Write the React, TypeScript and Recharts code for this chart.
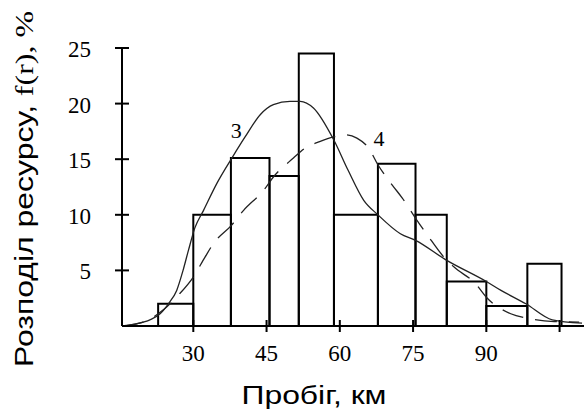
import React from 'react';
import {
    ComposedChart,
    Line,
    XAxis,
    YAxis,
    ReferenceArea,
    ReferenceDot
} from 'recharts';

// Histogram bins: edges (km) and heights (%)
const binEdges = [22.8, 30, 37.7, 45.6, 51.6, 58.8, 67.8, 75.5, 81.9, 90, 98.4, 105.4];
const binValues = [2, 10, 15.1, 13.5, 24.5, 10, 14.6, 10, 4, 1.8, 5.6];

// Curve 3 (solid)
const curve3X = [15.4, 18.4, 21.1, 23.2, 24.9, 26.6, 27.9, 29, 30.3, 32.1, 34.8, 37.9, 40.6, 43.7, 46.4, 49.8, 51.9, 54.6, 58.8, 61.7, 64.9, 67.8, 72.4, 75.5, 81.9, 90, 93, 98.1, 103.5, 109.6];
const curve3Y = [0, 0.2, 0.55, 1.1, 2.0, 3.2, 5.0, 6.8, 8.8, 10.4, 12.8, 15.1, 17.0, 19.0, 19.9, 20.2, 20.2, 19.6, 16.7, 14.0, 11.3, 10.0, 8.3, 7.7, 5.9, 4.0, 3.2, 2.0, 0.55, 0.25];

// Curve 4 (dashed)
const curve4X = [15.4, 20, 24, 27, 30, 32.4, 34.1, 37.9, 40.3, 44.4, 46.4, 50.5, 52.9, 56, 58.7, 61.1, 63.5, 65.9, 67.8, 70.7, 72.8, 75.8, 77.9, 81.3, 83.4, 87.8, 90.2, 95, 98.4, 103.9, 109];
const curve4Y = [0, 0.4, 1.5, 2.8, 4.4, 6.2, 7.4, 9.1, 10.4, 12.2, 13.4, 15.1, 16.0, 16.6, 17.0, 17.2, 16.9, 16.0, 14.5, 12.7, 11.5, 9.5, 8.2, 6.2, 5.3, 3.8, 2.5, 1.1, 0.7, 0.4, 0.35];

const xTicks = [30, 45, 60, 75, 90, 105];
const xTickLabels = ['30', '45', '60', '75', '90', ''];
const yTicks = [5, 10, 15, 20, 25];

const bins = binValues.map((v, i) => ({ from: binEdges[i], to: binEdges[i + 1], value: v }));
const curve3 = curve3X.map((x, i) => ({ x, y: curve3Y[i] }));
const curve4 = curve4X.map((x, i) => ({ x, y: curve4Y[i] }));

const serif = '"Liberation Serif", "Times New Roman", serif';
const sans = '"Liberation Sans", Arial, sans-serif';

const XTick = (props: any) => {
    const { x, y, payload } = props;
    const idx = xTicks.indexOf(payload.value);
    return (
        <g>
            <line x1={x} x2={x} y1={y - 6} y2={y + 6} stroke="#000" strokeWidth={2} />
            <text x={x} y={y + 35} textAnchor="middle" fontFamily={serif} fontSize={23} fill="#000">
                {xTickLabels[idx]}
            </text>
        </g>
    );
};

const YTick = (props: any) => {
    const { x, y, payload } = props;
    if (payload.value === 0) return null;
    return (
        <g>
            <line x1={x - 7} x2={x + 7} y1={y} y2={y} stroke="#000" strokeWidth={2} />
            <text x={x - 31} y={y + 9} textAnchor="end" fontFamily={serif} fontSize={23} fill="#000">
                {payload.value}
            </text>
        </g>
    );
};

// axis titles are stretched along the reading direction
const YTitle = () => (
    <text
        transform="rotate(-90, 33, 189)"
        x={33}
        y={189}
        textAnchor="middle"
        fill="#000"
        textLength={356}
        lengthAdjust="spacingAndGlyphs"
    >
        <tspan fontFamily={sans} fontSize={25}>Розподіл ресурсу, </tspan>
        <tspan fontFamily={serif} fontSize={25}>f(r), %</tspan>
    </text>
);

const XTitle = () => (
    <text
        x={314}
        y={404}
        textAnchor="middle"
        fontFamily={sans}
        fontSize={25}
        fill="#000"
        textLength={145}
        lengthAdjust="spacingAndGlyphs"
    >
        Пробіг, км
    </text>
);

const App: React.FC = () => {
    return (
        <div style={{ position: 'absolute', left: 0, top: 0, width: 584, height: 417, background: '#fff' }}>
            <ComposedChart width={584} height={417} margin={{ top: 48, right: 0, bottom: 61, left: 62 }}>
                <XAxis
                    type="number"
                    dataKey="x"
                    domain={[15.4, 110]}
                    ticks={xTicks}
                    interval={0}
                    allowDataOverflow
                    height={30}
                    tickSize={0}
                    tickMargin={0}
                    tickLine={false}
                    axisLine={{ stroke: '#000', strokeWidth: 2 }}
                    tick={<XTick />}
                    label={<XTitle />}
                />
                <YAxis
                    type="number"
                    domain={[0, 25]}
                    ticks={yTicks}
                    interval={0}
                    width={60}
                    tickSize={0}
                    tickMargin={0}
                    tickLine={false}
                    axisLine={{ stroke: '#000', strokeWidth: 2 }}
                    tick={<YTick />}
                    label={<YTitle />}
                />
                {bins.map((b, i) => (
                    <ReferenceArea
                        key={i}
                        x1={b.from}
                        x2={b.to}
                        y1={0}
                        y2={b.value}
                        fill="none"
                        stroke="#000"
                        strokeWidth={2}
                        ifOverflow="visible"
                    />
                ))}
                <Line
                    data={curve3}
                    dataKey="y"
                    type="monotone"
                    stroke="#222"
                    strokeWidth={1.3}
                    dot={false}
                    isAnimationActive={false}
                />
                <Line
                    data={curve4}
                    dataKey="y"
                    type="monotone"
                    stroke="#222"
                    strokeWidth={1.3}
                    strokeDasharray="22 12"
                    dot={false}
                    isAnimationActive={false}
                />
                <ReferenceDot
                    x={38.8}
                    y={17.6}
                    r={0}
                    fill="none"
                    stroke="none"
                    ifOverflow="visible"
                    label={{ value: '3', position: 'center', fontFamily: serif, fontSize: 22, fill: '#000' }}
                />
                <ReferenceDot
                    x={68}
                    y={16.9}
                    r={0}
                    fill="none"
                    stroke="none"
                    ifOverflow="visible"
                    label={{ value: '4', position: 'center', fontFamily: serif, fontSize: 22, fill: '#000' }}
                />
            </ComposedChart>
        </div>
    );
};

export default App;
